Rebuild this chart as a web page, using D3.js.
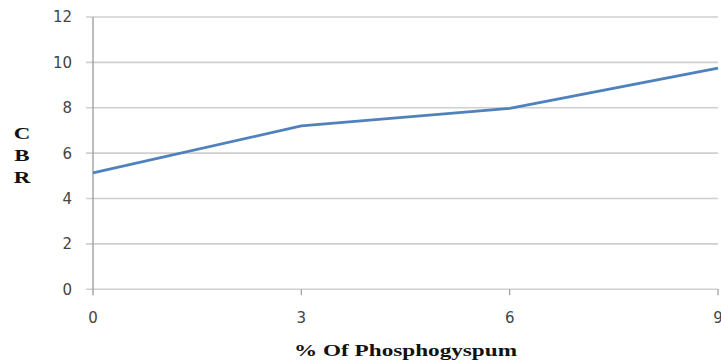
<!DOCTYPE html>
<html><head><meta charset="utf-8">
<script src="https://cdn.jsdelivr.net/npm/d3@7"></script>
<style>body{margin:0;background:#fff;}svg{display:block;}</style>
</head><body>
<svg id="c" width="721" height="360"></svg>
<script>
const xValues = [0, 3, 6, 9];
const cbrValues = [5.13, 7.2, 7.97, 9.75];
const yTicks = [0, 2, 4, 6, 8, 10, 12];
const xTicks = [0, 3, 6, 9];
const xTitle = "% Of Phosphogyspum";
const yTitle = ["C", "B", "R"];

const svg = d3.select("#c");
const mLeft = 93, mRight = 718, mTop = 17, mBottom = 289.3;
const x = d3.scaleLinear().domain([0, 9]).range([mLeft, mRight]);
const y = d3.scaleLinear().domain([0, 12]).range([mBottom, mTop]);

// gridlines
svg.append("g").selectAll("line").data(yTicks).join("line")
  .attr("x1", mLeft - 7).attr("x2", mRight)
  .attr("y1", d => y(d)).attr("y2", d => y(d))
  .attr("stroke", "#cfcfcf").attr("stroke-width", 1.6);

// y axis line
svg.append("line").attr("x1", mLeft).attr("x2", mLeft).attr("y1", mTop).attr("y2", mBottom + 6)
  .attr("stroke", "#9a9a9a").attr("stroke-width", 1.3);

// x tick marks
svg.append("g").selectAll("line").data(xTicks.slice(1)).join("line")
  .attr("x1", d => x(d)).attr("x2", d => x(d)).attr("y1", mBottom).attr("y2", mBottom + 6)
  .attr("stroke", "#9a9a9a").attr("stroke-width", 1.2);

// y tick labels
svg.append("g").selectAll("text").data(yTicks).join("text")
  .attr("x", 72).attr("y", d => y(d)).attr("dy", "0.36em")
  .attr("text-anchor", "end").attr("font-family", "DejaVu Sans").attr("font-size", 15)
  .attr("fill", "#444").text(d => d);

// x tick labels
svg.append("g").selectAll("text").data(xTicks).join("text")
  .attr("x", d => x(d)).attr("y", 318).attr("dy", "0.36em")
  .attr("text-anchor", "middle").attr("font-family", "DejaVu Sans").attr("font-size", 15)
  .attr("fill", "#444").text(d => d);

// x title (horizontally stretched like the reference)
svg.append("text").attr("x", 294).attr("y", 350).attr("dy", "0.36em")
  .attr("text-anchor", "start").attr("font-family", "Liberation Serif").attr("font-weight", "bold")
  .attr("font-size", 17).attr("fill", "#111")
  .attr("textLength", 223).attr("lengthAdjust", "spacingAndGlyphs").text(xTitle);

// y title stacked
svg.append("g").selectAll("text").data(yTitle).join("text")
  .attr("transform", (d, i) => `translate(22,${133 + i * 22})scale(1.35,1)`)
  .attr("dy", "0.36em")
  .attr("text-anchor", "middle").attr("font-family", "Liberation Serif").attr("font-weight", "bold")
  .attr("font-size", 17).attr("fill", "#111").text(d => d);

// line
const data = xValues.map((v, i) => ({x: v, y: cbrValues[i]}));
svg.append("path").datum(data)
  .attr("d", d3.line().x(d => x(d.x)).y(d => y(d.y)))
  .attr("fill", "none").attr("stroke", "#4f81bd").attr("stroke-width", 2.8)
  .attr("stroke-linejoin", "round");
</script>
</body></html>
